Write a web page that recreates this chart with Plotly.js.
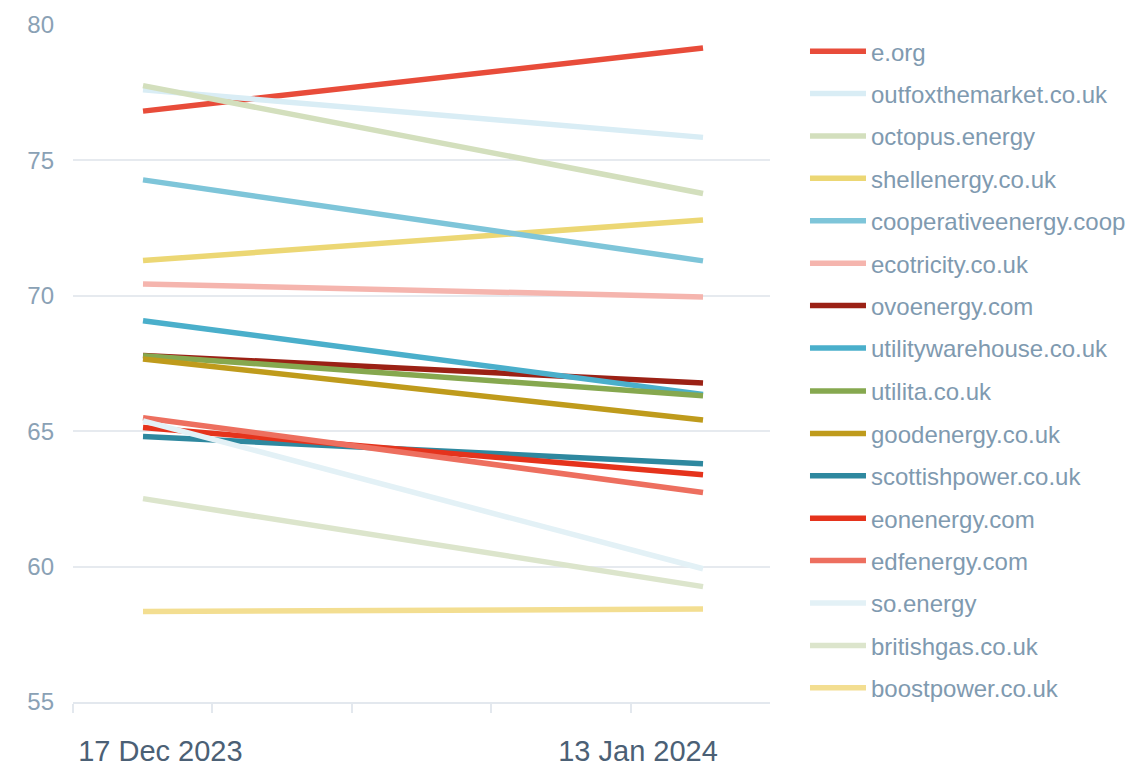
<!DOCTYPE html>
<html>
<head>
<meta charset="utf-8">
<script src="https://cdn.plot.ly/plotly-3.0.1.min.js"></script>
<style>html,body{margin:0;padding:0;background:#fff;}#chart{width:1130px;height:769px;}</style>
</head>
<body>
<div id="chart"></div>
<script>
var dates = ["17 Dec 2023", "13 Jan 2024"];
var suppliers = ["e.org","outfoxthemarket.co.uk","octopus.energy","shellenergy.co.uk","cooperativeenergy.coop","ecotricity.co.uk","ovoenergy.com","utilitywarehouse.co.uk","utilita.co.uk","goodenergy.co.uk","scottishpower.co.uk","eonenergy.com","edfenergy.com","so.energy","britishgas.co.uk","boostpower.co.uk"];
var startValues = [76.82, 77.61, 77.76, 71.30, 74.28, 70.44, 67.80, 69.08, 67.79, 67.67, 64.80, 65.14, 65.50, 65.38, 62.51, 58.34];
var endValues   = [79.15, 75.85, 73.78, 72.80, 71.29, 69.96, 66.78, 66.36, 66.31, 65.41, 63.80, 63.39, 62.74, 59.92, 59.26, 58.43];
var colors = ["#e84c3a","#d9edf5","#d3dfbd","#ecd774","#7ec5d9","#f5b5ae","#9b2115","#4aafcb","#86a84f","#bf9b1c","#2e889f","#e5331c","#ed6f5f","#e3f1f6","#dce5cc","#f3de91"];
var yTicks = [55, 60, 65, 70, 75, 80];

var xPos = [0, 1];
var traces = suppliers.map(function(name, i) {
  return {
    type: "scatter",
    mode: "lines",
    name: name,
    legend: i < 8 ? "legend" : "legend2",
    legendgroup: "g" + i,
    x: xPos,
    y: [startValues[i], endValues[i]],
    line: {color: colors[i], width: 5.5},
    hoverinfo: "name+y"
  };
});

function legendDef(yTop) {
  return {
    x: 1.0502, xanchor: "left", y: yTop, yanchor: "top",
    traceorder: "grouped",
    tracegroupgap: 8.2,
    itemwidth: 56,
    font: {size: 24, color: "#7f9ab0", family: "Arial, Liberation Sans, sans-serif"},
    bgcolor: "rgba(0,0,0,0)"
  };
}

var layout = {
  width: 1130,
  height: 769,
  margin: {l: 73, r: 360, t: 25, b: 67, autoexpand: false},
  paper_bgcolor: "#ffffff",
  plot_bgcolor: "#ffffff",
  font: {family: "Arial, Liberation Sans, sans-serif", color: "#8aa1b5"},
  showlegend: true,
  legend: legendDef(0.994),
  legend2: legendDef(0.492),
  xaxis: {
    range: [-0.125, 1.1196],
    tickvals: [0.031, 0.884],
    ticktext: dates,
    ticks: "",
    tickfont: {size: 29, color: "#4b6075"},
    ticklabelstandoff: 22,
    showgrid: false,
    zeroline: false,
    showline: true,
    linecolor: "#e3e8ee",
    linewidth: 2,
    minor: {tick0: -0.125, dtick: 0.249, ticks: "outside", ticklen: 9, tickcolor: "#e3e8ee", tickwidth: 2, showgrid: false},
    fixedrange: true
  },
  yaxis: {
    range: [55, 80],
    tickvals: yTicks,
    ticks: "",
    tickfont: {size: 24, color: "#8aa1b5"},
    ticklabelstandoff: 18,
    showgrid: true,
    gridcolor: "#e6eaef",
    gridwidth: 2,
    zeroline: false,
    showline: false,
    fixedrange: true
  }
};

Plotly.newPlot("chart", traces, layout, {displayModeBar: false, staticPlot: true});
</script>
</body>
</html>
